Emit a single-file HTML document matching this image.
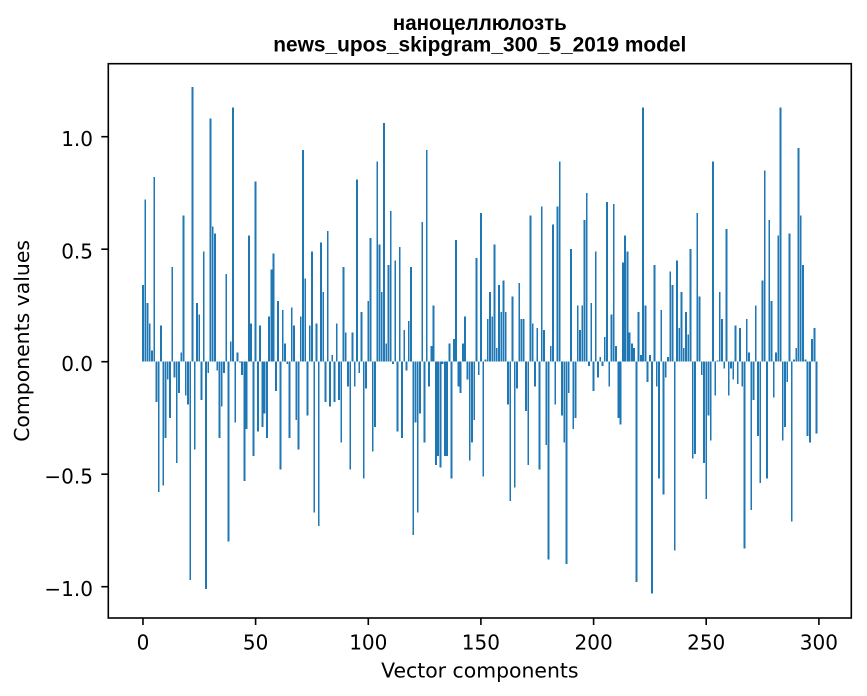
<!DOCTYPE html>
<html>
<head>
<meta charset="utf-8">
<style>
html,body{margin:0;padding:0;background:#fff;}
svg{display:block;}
.tk{font-family:"DejaVu Sans",sans-serif;font-size:20px;fill:#000;}
.lb{font-family:"DejaVu Sans",sans-serif;font-size:20.4px;fill:#000;}
.tt{font-family:"Liberation Sans",Arial,sans-serif;font-weight:bold;font-size:21px;fill:#000;}
</style>
</head>
<body>
<svg width="867" height="696" viewBox="0 0 867 696" xmlns="http://www.w3.org/2000/svg">
<rect x="0" y="0" width="867" height="696" fill="#fff"/>
<g transform="translate(142.97,361.7) scale(2.253,-225)">
<path fill="#1f77b4" shape-rendering="crispEdges" d="
M-0.4 0h.8v0.34h-.8z M0.6 0h.8v0.72h-.8z M1.6 0h.8v0.26h-.8z M2.6 0h.8v0.17h-.8z M3.6 0h.8v0.05h-.8z
M4.6 0h.8v0.82h-.8z M5.6 0h.8v-0.18h-.8z M6.6 0h.8v-0.58h-.8z M7.6 0h.8v0.16h-.8z M8.6 0h.8v-0.55h-.8z
M9.6 0h.8v-0.34h-.8z M10.6 0h.8v-0.08h-.8z M11.6 0h.8v-0.25h-.8z M12.6 0h.8v0.42h-.8z M13.6 0h.8v-0.07h-.8z
M14.6 0h.8v-0.45h-.8z M15.6 0h.8v-0.14h-.8z M16.6 0h.8v0.04h-.8z M17.6 0h.8v0.65h-.8z M18.6 0h.8v-0.15h-.8z
M19.6 0h.8v-0.19h-.8z M20.6 0h.8v-0.97h-.8z M21.6 0h.8v1.22h-.8z M22.6 0h.8v-0.39h-.8z M23.6 0h.8v0.26h-.8z
M24.6 0h.8v0.21h-.8z M25.6 0h.8v-0.17h-.8z M26.6 0h.8v0.49h-.8z M27.6 0h.8v-1.01h-.8z M28.6 0h.8v-0.05h-.8z
M29.6 0h.8v1.08h-.8z M30.6 0h.8v0.60h-.8z M31.6 0h.8v0.57h-.8z M32.6 0h.8v-0.04h-.8z M33.6 0h.8v-0.34h-.8z
M34.6 0h.8v-0.20h-.8z M35.6 0h.8v-0.05h-.8z M36.6 0h.8v0.39h-.8z M37.6 0h.8v-0.80h-.8z M38.6 0h.8v0.09h-.8z
M39.6 0h.8v1.13h-.8z M40.6 0h.8v-0.27h-.8z M41.6 0h.8v0.04h-.8z M42.6 0h.8v-0.004h-.8z M43.6 0h.8v-0.06h-.8z
M44.6 0h.8v-0.53h-.8z M45.6 0h.8v-0.30h-.8z M46.6 0h.8v0.56h-.8z M47.6 0h.8v0.17h-.8z M48.6 0h.8v-0.42h-.8z
M49.6 0h.8v0.80h-.8z M50.6 0h.8v-0.31h-.8z M51.6 0h.8v0.16h-.8z M52.6 0h.8v-0.29h-.8z M53.6 0h.8v-0.23h-.8z
M54.6 0h.8v-0.34h-.8z M55.6 0h.8v0.20h-.8z M56.6 0h.8v0.41h-.8z M57.6 0h.8v0.48h-.8z M58.6 0h.8v-0.13h-.8z
M59.6 0h.8v0.27h-.8z M60.6 0h.8v-0.48h-.8z M61.6 0h.8v0.23h-.8z M62.6 0h.8v0.08h-.8z M63.6 0h.8v-0.01h-.8z
M64.6 0h.8v-0.34h-.8z M65.6 0h.8v0.24h-.8z M66.6 0h.8v0.16h-.8z M67.6 0h.8v-0.26h-.8z M68.6 0h.8v-0.39h-.8z
M69.6 0h.8v0.20h-.8z M70.6 0h.8v0.94h-.8z M71.6 0h.8v0.37h-.8z M72.6 0h.8v-0.24h-.8z M73.6 0h.8v0.16h-.8z
M74.6 0h.8v0.49h-.8z M75.6 0h.8v-0.67h-.8z M76.6 0h.8v0.17h-.8z M77.6 0h.8v-0.73h-.8z M78.6 0h.8v0.53h-.8z
M79.6 0h.8v0.31h-.8z M80.6 0h.8v-0.18h-.8z M81.6 0h.8v0.58h-.8z M82.6 0h.8v-0.20h-.8z M83.6 0h.8v0.03h-.8z
M84.6 0h.8v-0.18h-.8z M85.6 0h.8v0.17h-.8z M86.6 0h.8v-0.17h-.8z M87.6 0h.8v-0.36h-.8z M88.6 0h.8v0.42h-.8z
M89.6 0h.8v0.13h-.8z M90.6 0h.8v-0.11h-.8z M91.6 0h.8v-0.48h-.8z M92.6 0h.8v0.13h-.8z M93.6 0h.8v-0.11h-.8z
M94.6 0h.8v0.81h-.8z M95.6 0h.8v-0.05h-.8z M96.6 0h.8v0.22h-.8z M97.6 0h.8v-0.52h-.8z M98.6 0h.8v-0.12h-.8z
M99.6 0h.8v0.27h-.8z M100.6 0h.8v0.55h-.8z M101.6 0h.8v-0.40h-.8z M102.6 0h.8v-0.29h-.8z M103.6 0h.8v0.89h-.8z
M104.6 0h.8v0.52h-.8z M105.6 0h.8v0.31h-.8z M106.6 0h.8v1.06h-.8z M107.6 0h.8v0.08h-.8z M108.6 0h.8v0.43h-.8z
M109.6 0h.8v0.67h-.8z M110.6 0h.8v-0.01h-.8z M111.6 0h.8v0.45h-.8z M112.6 0h.8v-0.31h-.8z M113.6 0h.8v0.51h-.8z
M114.6 0h.8v-0.34h-.8z M115.6 0h.8v0.14h-.8z M116.6 0h.8v-0.04h-.8z M117.6 0h.8v0.18h-.8z M118.6 0h.8v0.42h-.8z
M119.6 0h.8v-0.77h-.8z M120.6 0h.8v-0.27h-.8z M121.6 0h.8v-0.67h-.8z M122.6 0h.8v-0.23h-.8z M123.6 0h.8v0.62h-.8z
M124.6 0h.8v-0.36h-.8z M125.6 0h.8v0.94h-.8z M126.6 0h.8v-0.11h-.8z M127.6 0h.8v0.07h-.8z M128.6 0h.8v0.25h-.8z
M129.6 0h.8v-0.46h-.8z M130.6 0h.8v-0.42h-.8z M131.6 0h.8v-0.47h-.8z M132.6 0h.8v-0.01h-.8z M133.6 0h.8v-0.42h-.8z
M134.6 0h.8v-0.42h-.8z M135.6 0h.8v0.08h-.8z M136.6 0h.8v-0.52h-.8z M137.6 0h.8v0.10h-.8z M138.6 0h.8v0.54h-.8z
M139.6 0h.8v-0.11h-.8z M140.6 0h.8v-0.14h-.8z M141.6 0h.8v0.08h-.8z M142.6 0h.8v0.20h-.8z M143.6 0h.8v-0.08h-.8z
M144.6 0h.8v-0.44h-.8z M145.6 0h.8v-0.36h-.8z M146.6 0h.8v-0.26h-.8z M147.6 0h.8v0.46h-.8z M148.6 0h.8v-0.06h-.8z
M149.6 0h.8v0.66h-.8z M150.6 0h.8v-0.51h-.8z M151.6 0h.8v0.01h-.8z M152.6 0h.8v0.19h-.8z M153.6 0h.8v0.31h-.8z
M154.6 0h.8v0.20h-.8z M155.6 0h.8v0.52h-.8z M156.6 0h.8v0.06h-.8z M157.6 0h.8v0.34h-.8z M158.6 0h.8v0.22h-.8z
M159.6 0h.8v0.36h-.8z M160.6 0h.8v0.22h-.8z M161.6 0h.8v-0.19h-.8z M162.6 0h.8v-0.62h-.8z M163.6 0h.8v0.29h-.8z
M164.6 0h.8v-0.56h-.8z M165.6 0h.8v-0.12h-.8z M166.6 0h.8v0.35h-.8z M167.6 0h.8v0.19h-.8z M168.6 0h.8v0.19h-.8z
M169.6 0h.8v-0.22h-.8z M170.6 0h.8v-0.46h-.8z M171.6 0h.8v0.65h-.8z M172.6 0h.8v0.17h-.8z M173.6 0h.8v-0.11h-.8z
M174.6 0h.8v0.15h-.8z M175.6 0h.8v-0.48h-.8z M176.6 0h.8v0.69h-.8z M177.6 0h.8v0.14h-.8z M178.6 0h.8v-0.37h-.8z
M179.6 0h.8v-0.88h-.8z M180.6 0h.8v0.07h-.8z M181.6 0h.8v0.61h-.8z M182.6 0h.8v-0.19h-.8z M183.6 0h.8v0.69h-.8z
M184.6 0h.8v0.89h-.8z M185.6 0h.8v-0.24h-.8z M186.6 0h.8v-0.36h-.8z M187.6 0h.8v-0.90h-.8z M188.6 0h.8v-0.14h-.8z
M189.6 0h.8v0.50h-.8z M190.6 0h.8v-0.30h-.8z M191.6 0h.8v-0.25h-.8z M192.6 0h.8v0.25h-.8z M193.6 0h.8v0.14h-.8z
M194.6 0h.8v0.25h-.8z M195.6 0h.8v0.63h-.8z M196.6 0h.8v0.75h-.8z M197.6 0h.8v-0.02h-.8z M198.6 0h.8v0.26h-.8z
M199.6 0h.8v-0.13h-.8z M200.6 0h.8v0.49h-.8z M201.6 0h.8v-0.07h-.8z M202.6 0h.8v0.02h-.8z M203.6 0h.8v-0.02h-.8z
M204.6 0h.8v0.11h-.8z M205.6 0h.8v0.71h-.8z M206.6 0h.8v-0.11h-.8z M207.6 0h.8v0.21h-.8z M208.6 0h.8v0.70h-.8z
M209.6 0h.8v0.07h-.8z M210.6 0h.8v-0.25h-.8z M211.6 0h.8v-0.28h-.8z M212.6 0h.8v0.44h-.8z M213.6 0h.8v0.56h-.8z
M214.6 0h.8v0.49h-.8z M215.6 0h.8v0.13h-.8z M216.6 0h.8v0.08h-.8z M217.6 0h.8v0.06h-.8z M218.6 0h.8v-0.98h-.8z
M219.6 0h.8v0.22h-.8z M220.6 0h.8v0.03h-.8z M221.6 0h.8v1.13h-.8z M222.6 0h.8v0.25h-.8z M223.6 0h.8v-0.09h-.8z
M224.6 0h.8v0.03h-.8z M225.6 0h.8v-1.03h-.8z M226.6 0h.8v0.43h-.8z M227.6 0h.8v-0.11h-.8z M228.6 0h.8v-0.52h-.8z
M229.6 0h.8v0.23h-.8z M230.6 0h.8v-0.59h-.8z M231.6 0h.8v-0.07h-.8z M232.6 0h.8v0.02h-.8z M233.6 0h.8v0.40h-.8z
M234.6 0h.8v0.34h-.8z M235.6 0h.8v-0.84h-.8z M236.6 0h.8v0.45h-.8z M237.6 0h.8v0.15h-.8z M238.6 0h.8v0.31h-.8z
M239.6 0h.8v0.06h-.8z M240.6 0h.8v0.22h-.8z M241.6 0h.8v0.12h-.8z M242.6 0h.8v0.50h-.8z M243.6 0h.8v-0.43h-.8z
M244.6 0h.8v-0.41h-.8z M245.6 0h.8v0.66h-.8z M246.6 0h.8v0.29h-.8z M247.6 0h.8v-0.06h-.8z M248.6 0h.8v-0.45h-.8z
M249.6 0h.8v-0.61h-.8z M250.6 0h.8v-0.24h-.8z M251.6 0h.8v-0.35h-.8z M252.6 0h.8v0.89h-.8z M253.6 0h.8v-0.15h-.8z
M254.6 0h.8v0.005h-.8z M255.6 0h.8v0.31h-.8z M256.6 0h.8v0.19h-.8z M257.6 0h.8v-0.03h-.8z M258.6 0h.8v0.59h-.8z
M259.6 0h.8v-0.15h-.8z M260.6 0h.8v-0.03h-.8z M261.6 0h.8v-0.08h-.8z M262.6 0h.8v0.16h-.8z M263.6 0h.8v-0.10h-.8z
M264.6 0h.8v0.15h-.8z M265.6 0h.8v-0.11h-.8z M266.6 0h.8v-0.83h-.8z M267.6 0h.8v0.19h-.8z M268.6 0h.8v0.04h-.8z
M269.6 0h.8v-0.66h-.8z M270.6 0h.8v-0.17h-.8z M271.6 0h.8v0.25h-.8z M272.6 0h.8v-0.33h-.8z M273.6 0h.8v-0.54h-.8z
M274.6 0h.8v0.36h-.8z M275.6 0h.8v0.85h-.8z M276.6 0h.8v-0.52h-.8z M277.6 0h.8v0.63h-.8z M278.6 0h.8v0.27h-.8z
M279.6 0h.8v-0.16h-.8z M280.6 0h.8v0.04h-.8z M281.6 0h.8v0.56h-.8z M282.6 0h.8v1.13h-.8z M283.6 0h.8v-0.35h-.8z
M284.6 0h.8v-0.29h-.8z M285.6 0h.8v-0.09h-.8z M286.6 0h.8v0.57h-.8z M287.6 0h.8v-0.71h-.8z M288.6 0h.8v0.01h-.8z
M289.6 0h.8v0.06h-.8z M290.6 0h.8v0.95h-.8z M291.6 0h.8v0.65h-.8z M292.6 0h.8v0.43h-.8z M293.6 0h.8v0.01h-.8z
M294.6 0h.8v-0.33h-.8z M295.6 0h.8v-0.36h-.8z M296.6 0h.8v0.10h-.8z M297.6 0h.8v0.15h-.8z M298.6 0h.8v-0.32h-.8z
"/>
</g>
<rect x="108.3" y="63.7" width="743" height="554.3" fill="none" stroke="#000" stroke-width="1.6"/>
<g stroke="#000" stroke-width="1.6">
<line x1="101.3" y1="136.7" x2="108.3" y2="136.7"/>
<line x1="101.3" y1="249.2" x2="108.3" y2="249.2"/>
<line x1="101.3" y1="361.7" x2="108.3" y2="361.7"/>
<line x1="101.3" y1="474.2" x2="108.3" y2="474.2"/>
<line x1="101.3" y1="586.7" x2="108.3" y2="586.7"/>
<line x1="142.97" y1="618" x2="142.97" y2="625"/>
<line x1="255.6" y1="618" x2="255.6" y2="625"/>
<line x1="368.3" y1="618" x2="368.3" y2="625"/>
<line x1="480.9" y1="618" x2="480.9" y2="625"/>
<line x1="593.6" y1="618" x2="593.6" y2="625"/>
<line x1="706.2" y1="618" x2="706.2" y2="625"/>
<line x1="818.9" y1="618" x2="818.9" y2="625"/>
</g>
<g class="tk" text-anchor="end">
<text x="93" y="146.2">1.0</text>
<text x="93" y="258.7">0.5</text>
<text x="93" y="371.2">0.0</text>
<text x="93" y="483.7">−0.5</text>
<text x="93" y="596.2">−1.0</text>
</g>
<g class="tk" text-anchor="middle">
<text x="142.97" y="649.5">0</text>
<text x="255.6" y="649.5">50</text>
<text x="368.3" y="649.5">100</text>
<text x="480.9" y="649.5">150</text>
<text x="593.6" y="649.5">200</text>
<text x="706.2" y="649.5">250</text>
<text x="818.9" y="649.5">300</text>
</g>
<g class="lb" text-anchor="middle">
<text x="479.8" y="677.3">Vector components</text>
<text transform="translate(29,340.9) rotate(-90)" x="0" y="0">Components values</text>
</g>
<g class="tt" text-anchor="middle">
<text x="479.8" y="30" textLength="174" lengthAdjust="spacingAndGlyphs">наноцеллюлозть</text>
<text x="479.8" y="51.7" textLength="413" lengthAdjust="spacingAndGlyphs">news_upos_skipgram_300_5_2019 model</text>
</g>
</svg>
</body>
</html>
